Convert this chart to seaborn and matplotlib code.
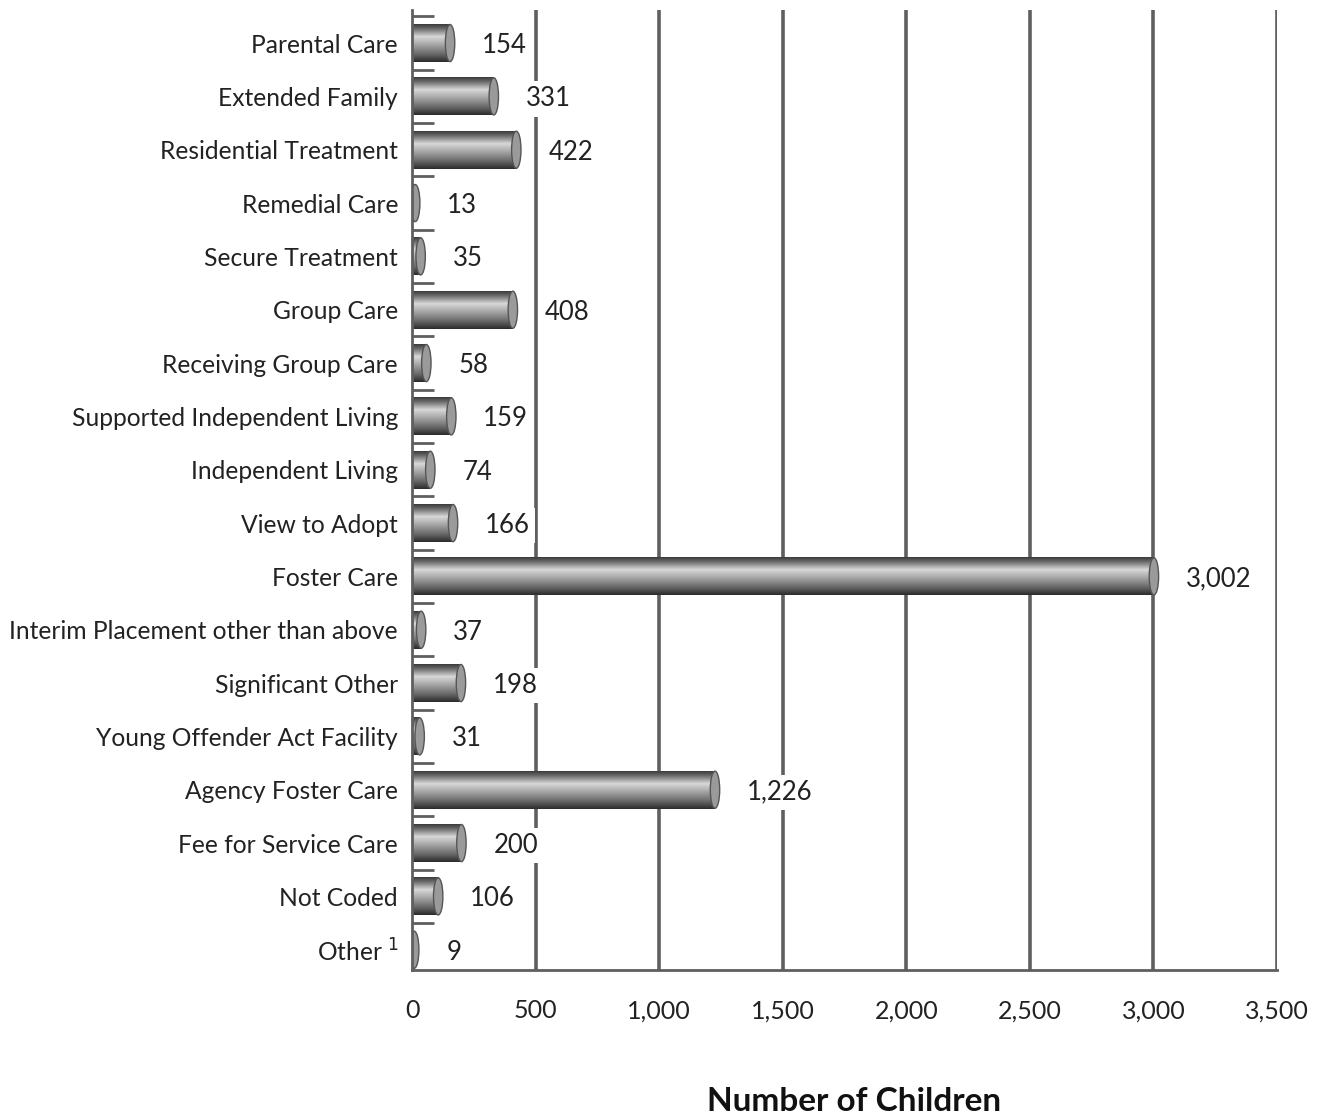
import numpy as np
import pandas as pd
import matplotlib
matplotlib.use("Agg")
import matplotlib.pyplot as plt
import seaborn as sns
from matplotlib.patches import Ellipse
from matplotlib.colors import LinearSegmentedColormap

categories = ["Parental Care", "Extended Family", "Residential Treatment", "Remedial Care",
              "Secure Treatment", "Group Care", "Receiving Group Care",
              "Supported Independent Living", "Independent Living", "View to Adopt",
              "Foster Care", "Interim Placement other than above", "Significant Other",
              "Young Offender Act Facility", "Agency Foster Care", "Fee for Service Care",
              "Not Coded", "Other$^{\\ 1}$"]
values = [154, 331, 422, 13, 35, 408, 58, 159, 74, 166, 3002, 37, 198, 31, 1226, 200, 106, 9]
xticks = [0, 500, 1000, 1500, 2000, 2500, 3000, 3500]

df = pd.DataFrame({"category": categories, "value": values})

sns.set_theme(style="white")
plt.rcParams['font.family'] = ['Lato', 'DejaVu Sans']

fig = plt.figure(figsize=(13.18, 11.2), dpi=100)
ax = fig.add_axes([412/1318, 1 - 970/1120, 865/1318, (970-10)/1120])

sns.barplot(data=df, x="value", y="category", orient="h", color="#777777",
            width=0.71, ax=ax, zorder=3)

ax.set_xlim(0, 3500)
ax.set_ylim(17.38, -0.62)

# gridlines
for xv in xticks[1:]:
    ax.axvline(xv, color="#5f5f5f", lw=2.6, zorder=1)

# cylinder shading
cmap = LinearSegmentedColormap.from_list(
    "cyl", [(0.0, "#3a3a3a"), (0.12, "#6a6a6a"), (0.33, "#d8d8d8"),
            (0.5, "#b0b0b0"), (0.8, "#666666"), (1.0, "#2a2a2a")])
grad = np.linspace(0, 1, 256).reshape(-1, 1)
for p, v in zip(ax.patches, values):
    x0, y0 = p.get_x(), p.get_y()
    w, h = p.get_width(), p.get_height()
    p.set_edgecolor("none")
    im = ax.imshow(grad, cmap=cmap, aspect="auto",
                   extent=[x0, x0 + w, y0 + h, y0], zorder=4, interpolation="bilinear")
    im.set_clip_path(p)
    cap = Ellipse((x0 + w, y0 + h / 2), width=38, height=h * 0.98,
                  facecolor="#9a9a9a", edgecolor="#555555", lw=1.0, zorder=5)
    ax.add_patch(cap)
    ax.annotate(f"{v:,}", xy=(x0 + w, y0 + h / 2), xytext=(23, 0),
                textcoords="offset points", va="center_baseline", ha="left",
                fontsize=18.5, color="#222222", zorder=6,
                bbox=dict(boxstyle="square,pad=0.2", facecolor="white", edgecolor="none"))

ax.set_xlim(0, 3500)
ax.set_ylim(17.38, -0.62)

ax.set_xticks(xticks)
ax.set_xticklabels([f"{t:,}" for t in xticks], fontsize=18, color="#222222")
ax.tick_params(axis="x", length=0, pad=21)
ax.tick_params(axis="y", which="major", length=0, pad=10, labelsize=17.7, labelcolor="#222222")
ax.set_yticks(np.arange(-0.5, 17.5, 1.0), minor=True)
ax.tick_params(axis="y", which="minor", direction="in", length=16, width=2, color="#5f5f5f", left=True)

for s in ["top", "right"]:
    ax.spines[s].set_visible(False)
for s in ["left", "bottom"]:
    ax.spines[s].set_color("#5f5f5f")
    ax.spines[s].set_linewidth(2)
    ax.spines[s].set_zorder(8)

ax.set_ylabel("")
ax.set_xlabel("Number of Children", fontsize=24, fontweight="bold", color="#111111")
ax.xaxis.set_label_coords(0.511, -0.122)

fig.savefig("out.png", dpi=100, facecolor="white")
